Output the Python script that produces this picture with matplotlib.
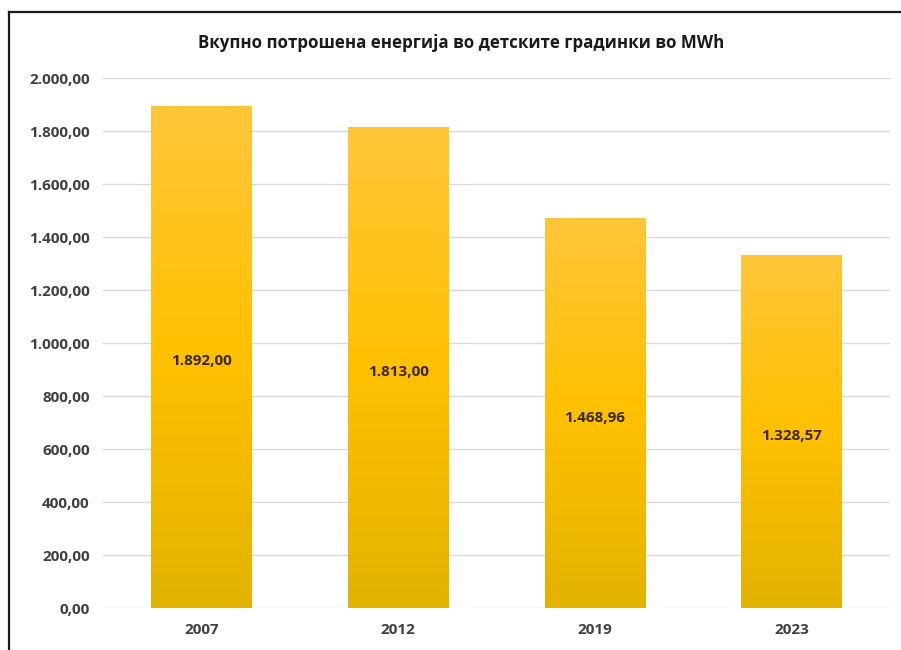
import numpy as np
import matplotlib.pyplot as plt
from matplotlib.colors import LinearSegmentedColormap
from matplotlib.lines import Line2D

plt.rcParams['font.family'] = ['Open Sans', 'DejaVu Sans']

# Податоци
godini = ["2007", "2012", "2019", "2023"]
energija = [1892.00, 1813.00, 1468.96, 1328.57]
naslov = "Вкупно потрошена енергија во детските градинки во MWh"


def mk_format(v):
    # 1892.0 -> "1.892,00"
    s = f"{v:,.2f}"
    return s.replace(",", "X").replace(".", ",").replace("X", ".")


fig = plt.figure(figsize=(9.01, 6.5), dpi=100)
ax = fig.add_axes([0.1143, 0.0646, 0.8735, 0.8154])

x = np.arange(len(godini))
bars = ax.bar(x, energija, width=0.51, color="none", edgecolor="none", zorder=2)

# градиент во секоја колона
grad = LinearSegmentedColormap.from_list("zolto", ["#E3B300", "#FFC000", "#FFC63A"])
gradient = np.linspace(0, 1, 256).reshape(-1, 1)
for b in bars:
    x0, w, h = b.get_x(), b.get_width(), b.get_height()
    ax.imshow(gradient, cmap=grad, aspect="auto", origin="lower",
              extent=[x0, x0 + w, 0, h], zorder=2)

for xi, v in zip(x, energija):
    ax.annotate(mk_format(v), (xi, v / 2), xytext=(0, -3), textcoords="offset points",
                ha="center", va="center", fontsize=11, fontweight="bold",
                color="#3a2800", zorder=3)

ax.set_xlim(-0.5, len(godini) - 0.5)
ax.set_ylim(0, 2000)
ax.set_yticks(np.arange(0, 2001, 200))
ax.set_yticklabels([mk_format(t) for t in np.arange(0, 2001, 200)])
ax.set_xticks(x)
ax.set_xticklabels(godini)

ax.grid(axis="y", color="#D9D9D9", linewidth=1, zorder=0)
ax.set_axisbelow(True)
for s in ax.spines.values():
    s.set_visible(False)
ax.tick_params(axis="both", length=0, labelsize=11, labelcolor="#404040")
ax.tick_params(axis="y", pad=9.5)
ax.tick_params(axis="x", pad=11)
for lbl in ax.get_xticklabels() + ax.get_yticklabels():
    lbl.set_fontweight("bold")

fig.text(0.512, 0.934, naslov, ha="center", va="center", fontsize=12.2,
         fontweight="bold", color="#1a1a1a")

# рамка (горе и лево)
fig.add_artist(Line2D([0.01, 1.0], [0.9815, 0.9815], color="#1a1a1a", lw=1.6,
                      transform=fig.transFigure))
fig.add_artist(Line2D([0.01, 0.01], [0.0, 0.9815], color="#1a1a1a", lw=1.6,
                      transform=fig.transFigure))

fig.savefig("out.png", dpi=100)
